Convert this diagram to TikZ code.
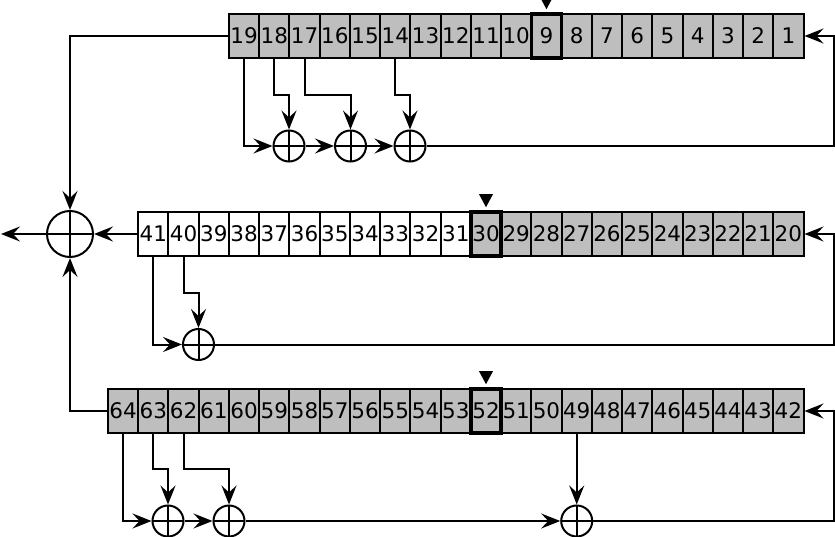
\documentclass[tikz,border=0pt]{standalone}
\usepackage{fontspec}
\setmainfont{DejaVu Sans}
\usetikzlibrary{arrows.meta,calc}
\definecolor{cellgrey}{HTML}{BEBEBE}
\tikzset{
  x=1pt,y=-1pt,
  wire/.style={line width=2pt,draw=black},
  arr/.style={wire,-{Stealth[length=19pt,width=15pt,inset=7pt]}},
  cellbox/.style={draw=black,line width=2pt,minimum width=30.24pt,minimum height=44pt,inner sep=0pt,
     font=\fontsize{21.5pt}{22pt}\selectfont,text=black},
  greycell/.style={cellbox,fill=cellgrey},
  whitecell/.style={cellbox,fill=white},
  tapcell/.style={draw=black,line width=3.6pt,minimum width=30.24pt,minimum height=44pt,inner sep=0pt},
  xorgate/.style={circle,draw=black,line width=2pt,minimum size=#1,inner sep=0pt,fill=white,
     path picture={\draw[line width=2pt] (path picture bounding box.north)--(path picture bounding box.south)
        (path picture bounding box.west)--(path picture bounding box.east);}},
  xorgate/.default=31pt,
  tapmark/.style={fill=black,draw=none}
}
\begin{document}
\begin{tikzpicture}
\useasboundingbox (0,0) rectangle (835,537);
% top register 1..19
\foreach \n in {1,...,19}{
  \node[greycell] (c\n) at ({788.4-(\n-1)*30.24},36) {\n};
}
% middle register 20..41
\foreach \n in {20,...,41}{
  \pgfmathtruncatemacro{\idx}{\n-20}
  \ifnum\n>30
    \node[whitecell] (c\n) at ({788.4-\idx*30.24},234) {\n};
  \else
    \node[greycell] (c\n) at ({788.4-\idx*30.24},234) {\n};
  \fi
}
% bottom register 42..64
\foreach \n in {42,...,64}{
  \pgfmathtruncatemacro{\idx}{\n-42}
  \node[greycell] (c\n) at ({788.4-\idx*30.24},411) {\n};
}
% tap cells
\foreach \n in {9,30,52}{
  \node[tapcell] (t\n) at (c\n) {};
  \fill[tapmark] ($(t\n.north)+(-7,-16)$) -- ($(t\n.north)+(7,-16)$) -- ($(t\n.north)+(0,-3)$) -- cycle;
}
% gates
\node[xorgate] (x1) at (289,146) {};
\node[xorgate] (x2) at (350.5,146) {};
\node[xorgate] (x3) at (410,146) {};
\node[xorgate] (x4) at (198.5,344.5) {};
\node[xorgate] (x5) at (168,521) {};
\node[xorgate] (x6) at (229,521) {};
\path (c49 |- x5) node[xorgate] (x7) {};
\node[xorgate=46pt] (big) at (70,234) {};
\coordinate (out) at (1,234);
\coordinate (rt) at (834,146);
\coordinate (rm) at (834,344.5);
\coordinate (rb) at (834,521);
% top register wiring
\draw[arr] (c19.west) -| (big.north);
\draw[arr] (c19.south) |- (x1.west);
\draw[arr] (c18.south) |- (289,95) -- (x1.north);
\draw[arr] (c17.south) |- (350.5,95) -- (x2.north);
\draw[arr] (c14.south) |- (410,95) -- (x3.north);
\draw[arr] (x1.east) -- (x2.west);
\draw[arr] (x2.east) -- (x3.west);
\draw[arr] (x3.east) -- (rt) |- (c1.east);
% middle register wiring
\draw[arr] (c41.west) -- (big.east);
\draw[arr] (big.west) -- (out);
\draw[arr] (c41.south) |- (x4.west);
\draw[arr] (c40.south) |- (198.5,293) -- (x4.north);
\draw[arr] (x4.east) -- (rm) |- (c20.east);
% bottom register wiring
\draw[arr] (c64.west) -| (big.south);
\draw[arr] (c64.south) |- (x5.west);
\draw[arr] (c63.south) |- (168,469) -- (x5.north);
\draw[arr] (c62.south) |- (229,469) -- (x6.north);
\draw[arr] (c49.south) -- (x7.north);
\draw[arr] (x5.east) -- (x6.west);
\draw[arr] (x6.east) -- (x7.west);
\draw[arr] (x7.east) -- (rb) |- (c42.east);
\end{tikzpicture}
\end{document}
